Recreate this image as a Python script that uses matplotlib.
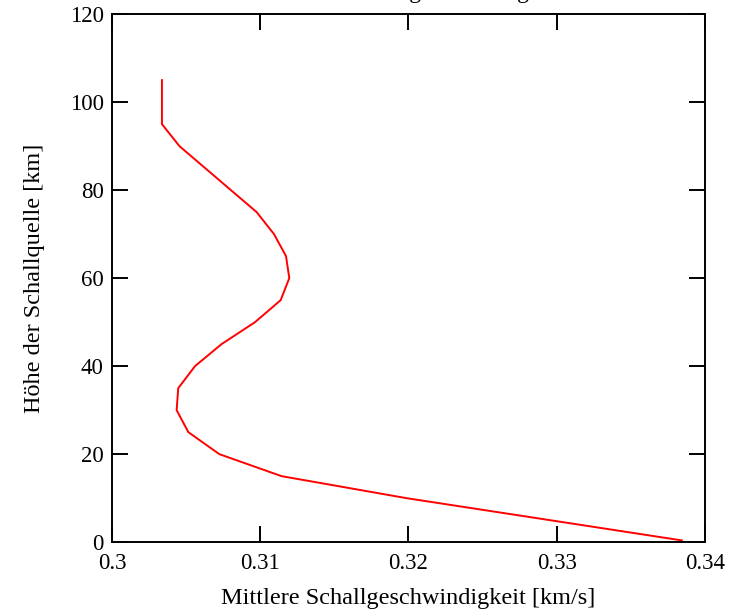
import matplotlib
matplotlib.use('Agg')
import matplotlib.pyplot as plt
import numpy as np

# mittlere Schallgeschwindigkeit ueber Quellhoehe
hoehe = [105, 95, 90, 75, 70, 65, 60, 55, 50, 45, 40, 35, 30, 25, 20, 15, 10, 0.4]
geschw = [0.30337, 0.30337, 0.30455, 0.30976, 0.31093, 0.31174, 0.31196, 0.31138,
          0.30965, 0.30739, 0.30560, 0.30447, 0.30436, 0.30515, 0.30724, 0.31144,
          0.31987, 0.33844]

xticks = [0.3, 0.31, 0.32, 0.33, 0.34]
xticklabels = ['0.3', '0.31', '0.32', '0.33', '0.34']
yticks = [0, 20, 40, 60, 80, 100, 120]

plt.rcParams['font.family'] = ['Liberation Serif', 'DejaVu Serif']
plt.rcParams['font.size'] = 17

fig = plt.figure(figsize=(7.32, 6.14), dpi=100)
ax = fig.add_axes([0.153, 0.117, 0.81, 0.86])

ax.plot(geschw, hoehe, color='red', lw=1.4)

ax.set_xlim(0.3, 0.34)
ax.set_ylim(0, 120)
ax.set_xticks(xticks)
ax.set_xticklabels(xticklabels)
ax.set_yticks(yticks)
ax.tick_params(direction='in', length=11.5, width=1.4, top=True, right=True,
               labelsize=16.5)
ax.tick_params(axis='x', pad=8)
ax.tick_params(axis='y', pad=6)
for s in ax.spines.values():
    s.set_linewidth(1.4)

ax.set_xlabel('Mittlere Schallgeschwindigkeit [km/s]', fontsize=17.5, labelpad=10)
ax.set_ylabel('Höhe der Schallquelle [km]', fontsize=17.5, labelpad=18)

# Titel ragt oben aus dem Bild heraus
fig.text(0.568, 1.004, 'Mittlere Schallgeschwindigkeit', ha='center', va='baseline',
         fontsize=17)

fig.savefig('out.png', dpi=100)
